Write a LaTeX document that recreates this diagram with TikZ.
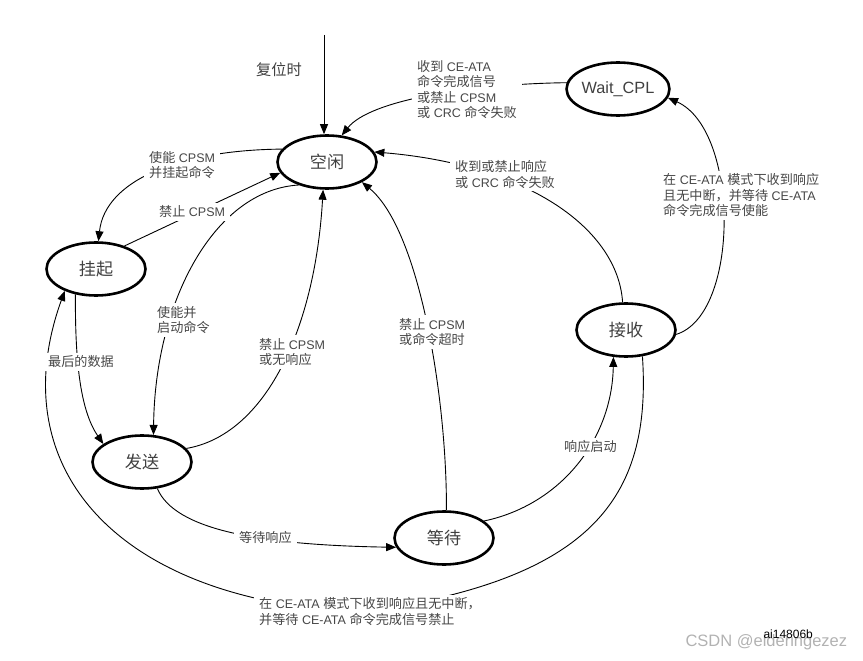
\documentclass[tikz,border=0pt]{standalone}
\usepackage{fontspec}
\setmainfont{Liberation Sans}
\newfontfamily\zh[Scale=1.05]{Noto Sans CJK SC}
\usetikzlibrary{shapes.geometric,arrows.meta}

\begin{document}
\begin{tikzpicture}[x=1pt,y=-1pt,
  state/.style={ellipse,draw,line width=2.6pt,minimum width=99pt,minimum height=53pt,inner sep=0pt,font=\fontsize{16.3}{18}\selectfont,text=black!75},
  lbl/.style={fill=white,align=left,anchor=west,inner xsep=5pt,inner ysep=3pt,font=\fontsize{12.5}{15.5}\selectfont,text=black!72},
  arr/.style={-{Triangle[length=10pt,width=8pt]},line width=0.9pt}]

\useasboundingbox (0,0) rectangle (863,661);

%states
\node[state] (idle) at (327,162) {\zh 空闲};
\node[state] (pend) at (96,269) {\zh 挂起};
\node[state] (send) at (142,462) {\zh 发送};
\node[state] (wait) at (444,538) {\zh 等待};
\node[state] (recv) at (626,330) {\zh 接收};
\node[state] (wcpl) at (618,89) {Wait\_CPL};

%reset
\coordinate (reset) at (324,35);
\node[font=\zh\fontsize{14.5}{18}\selectfont,text=black!75] (rlbl) at (279,70) {复位时};
\draw[arr] (reset) -- (reset |- idle.north);

%transitions
\draw[arr] (wcpl.173) .. controls (470,84) and (370,100) .. (idle.61);
\draw[arr] (recv.97) .. controls (618,230) and (530,165) .. (idle.12);
\draw[arr] (recv.355) .. controls (740,315) and (740,130) .. (wcpl.350);
\draw[arr] (idle.164) .. controls (180,150) and (105,180) .. (pend.85);
\draw[arr] (pend.39) -- (idle.193);
\draw[arr] (idle.219) .. controls (215,190) and (155,300) .. (send.67);
\draw[arr] (send.17) .. controls (265,435) and (315,330) .. (idle.262);
\draw[arr] (wait.85) .. controls (447,400) and (420,230) .. (idle.330);
\draw[arr] (wait.23) .. controls (560,505) and (612,440) .. (recv.245);
\draw[arr] (send.300) .. controls (175,530) and (260,545) .. (wait.191);
\draw[arr] (pend.231) .. controls (75,360) and (80,410) .. (send.155);
\draw[arr] (recv.302) .. controls (652,500) and (590,580) .. (362,612) .. controls (120,602) and (0,470) .. (pend.215);

%labels
\node[lbl] (l1) at (412,89.5) {{\zh 收到} CE-ATA\\{\zh 命令完成信号}\\{\zh 或禁止} CPSM\\{\zh 或} CRC {\zh 命令失败}};
\node[lbl] (l2) at (450,174.5) {{\zh 收到或禁止响应}\\{\zh 或} CRC {\zh 命令失败}};
\node[lbl] (l3) at (658,195.5) {{\zh 在} CE-ATA {\zh 模式下收到响应}\\{\zh 且无中断，并等待} CE-ATA\\{\zh 命令完成信号使能}};
\node[lbl] (l4) at (144,165) {{\zh 使能} CPSM\\{\zh 并挂起命令}};
\node[lbl] (l5) at (154,212) {{\zh 禁止} CPSM};
\node[lbl] (l6) at (152,320) {{\zh 使能并}\\{\zh 启动命令}};
\node[lbl] (l7) at (43,362) {\zh 最后的数据};
\node[lbl] (l8) at (254,352) {{\zh 禁止} CPSM\\{\zh 或无响应}};
\node[lbl] (l9) at (394,332) {{\zh 禁止} CPSM\\{\zh 或命令超时}};
\node[lbl] (l10) at (559,447) {\zh 响应启动};
\node[lbl] (l11) at (234,538) {\zh 等待响应};
\node[lbl] (l12) at (254,611.5) {{\zh 在} CE-ATA {\zh 模式下收到响应且无中断，}\\{\zh 并等待} CE-ATA {\zh 命令完成信号禁止}};

%figure tag
\node[font=\fontsize{16.5}{18}\selectfont,text=black!30,anchor=west] (mark) at (682,642) {CSDN @elderingezez};
\node[font=\fontsize{12}{13}\selectfont,anchor=west] (tag) at (760,634) {ai14806b};

\end{tikzpicture}
\end{document}
